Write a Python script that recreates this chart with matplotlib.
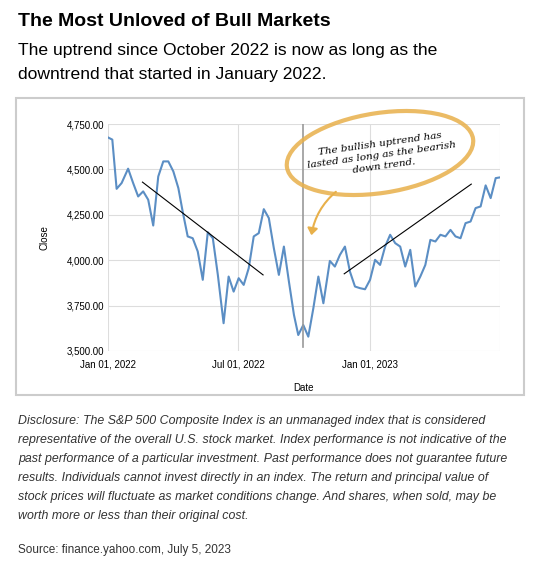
import matplotlib
matplotlib.use("Agg")
import matplotlib.pyplot as plt
from matplotlib.patches import Ellipse, FancyArrowPatch, Rectangle
import pandas as pd

START = pd.Timestamp("2022-01-01")
DAYS = [0, 6, 12, 19, 28, 35, 42, 49, 56, 63, 70, 77, 84, 91, 98, 104, 111, 118,
        125, 132, 139, 146, 153, 161, 168, 175, 182, 189, 196, 203, 210, 217, 224,
        231, 238, 245, 252, 259, 265, 272, 279, 286, 293, 300, 309, 316, 323, 330,
        337, 344, 351, 358, 365, 372, 379, 386, 393, 400, 407, 414, 421, 428, 435,
        442, 449, 456, 463, 470, 477, 484, 491, 498, 505, 512, 519, 526, 533, 540, 546]
CLOSE = [4676, 4664, 4393, 4425, 4504, 4425, 4351, 4379, 4333, 4191, 4461, 4544,
         4544, 4489, 4397, 4268, 4131, 4121, 4048, 3892, 4154, 4121, 3919, 3653,
         3910, 3827, 3901, 3864, 3956, 4131, 4149, 4281, 4232, 4066, 3919, 4075,
         3882, 3699, 3588, 3643, 3579, 3735, 3910, 3763, 3996, 3965, 4029, 4075,
         3937, 3855, 3846, 3840, 3892, 4002, 3974, 4075, 4140, 4094, 4075, 3965,
         4057, 3855, 3910, 3974, 4112, 4103, 4140, 4131, 4167, 4131, 4121, 4204,
         4213, 4287, 4296, 4412, 4342, 4452, 4456]
DOWN_TREND = ([48, 216], [4430, 3919])
UP_TREND = ([329, 506], [3925, 4419])
SPLIT_DAY = 271

dates = [START + pd.Timedelta(days=d) for d in DAYS]

W, H = 540, 578
fig = plt.figure(figsize=(W / 100, H / 100), dpi=100)
plt.rcParams["font.family"] = "Liberation Sans"

fig.text(18 / W, 1 - 22 / H, "The Most Unloved of Bull Markets", fontsize=14,
         fontweight="bold", va="center")
fig.text(18 / W, 1 - 50 / H, "The uptrend since October 2022 is now as long as the",
         fontsize=12.6, va="center")
fig.text(18 / W, 1 - 75 / H, "downtrend that started in January 2022.",
         fontsize=12.6, va="center")

fig.patches.append(Rectangle((16 / W, 1 - 395 / H), 508 / W, 297 / H,
                             transform=fig.transFigure, fill=False,
                             edgecolor="#cccccc", linewidth=1.5))

ax = fig.add_axes([108 / W, 1 - 351 / H, 392 / W, 227 / H])
ax.plot(dates, CLOSE, color="#5b8ec4", linewidth=1.5)
ax.plot([START + pd.Timedelta(days=d) for d in DOWN_TREND[0]], DOWN_TREND[1],
        color="black", linewidth=0.8)
ax.plot([START + pd.Timedelta(days=d) for d in UP_TREND[0]], UP_TREND[1],
        color="black", linewidth=0.8)
ax.plot([START + pd.Timedelta(days=SPLIT_DAY)] * 2, [3520, 4750],
        color="#999999", linewidth=1.2)

ax.set_xlim(START, pd.Timestamp("2023-07-01"))
ax.set_ylim(3500, 4750)
ax.set_yticks([3500, 3750, 4000, 4250, 4500, 4750])
ax.yaxis.set_major_formatter(matplotlib.ticker.FuncFormatter(lambda v, p: f"{v:,.2f}"))
ax.set_xticks([pd.Timestamp("2022-01-01"), pd.Timestamp("2022-07-01"),
               pd.Timestamp("2023-01-01"), pd.Timestamp("2023-07-01")])
ax.set_xticklabels(["Jan 01, 2022", "Jul 01, 2022", "Jan 01, 2023", ""])
ax.tick_params(axis="y", length=0, labelsize=7, pad=3)
ax.tick_params(axis="x", length=0, labelsize=7, pad=6)
ax.grid(True, color="#dddddd", linewidth=0.8)
for s in ax.spines.values():
    s.set_visible(False)
ax.set_xlabel("Date", fontsize=7, labelpad=10)
ax.set_ylabel("Close", fontsize=7, labelpad=12)

fig.patches.append(Ellipse((380 / W, 1 - 153 / H), 188 / W, 80 / H, angle=8,
                           transform=fig.transFigure, fill=False,
                           edgecolor="#e8b04a", linewidth=3, alpha=0.85))
fig.text(382 / W, 1 - 155 / H, "The bullish uptrend has\nlasted as long as the bearish\ndown trend.",
         fontsize=7.5, style="italic", ha="center", va="center", rotation=8,
         linespacing=1.3, family="DejaVu Serif")
fig.patches.append(FancyArrowPatch((338 / W, 1 - 190 / H), (311 / W, 1 - 238 / H),
                                   transform=fig.transFigure, connectionstyle="arc3,rad=0.2",
                                   arrowstyle="-|>,head_length=4,head_width=3",
                                   color="#e8b04a", linewidth=1.5))

disc = ("Disclosure: The S&P 500 Composite Index is an unmanaged index that is considered\n"
        "representative of the overall U.S. stock market. Index performance is not indicative of the\n"
        "past performance of a particular investment. Past performance does not guarantee future\n"
        "results. Individuals cannot invest directly in an index. The return and principal value of\n"
        "stock prices will fluctuate as market conditions change. And shares, when sold, may be\n"
        "worth more or less than their original cost.")
fig.text(18 / W, 1 - 415 / H, disc, fontsize=8.9, style="italic", va="top",
         linespacing=1.78, color="#333333")
fig.text(18 / W, 1 - 550 / H, "Source: finance.yahoo.com, July 5, 2023", fontsize=8.5,
         va="center", color="#333333")

fig.savefig("out.png", dpi=100)
